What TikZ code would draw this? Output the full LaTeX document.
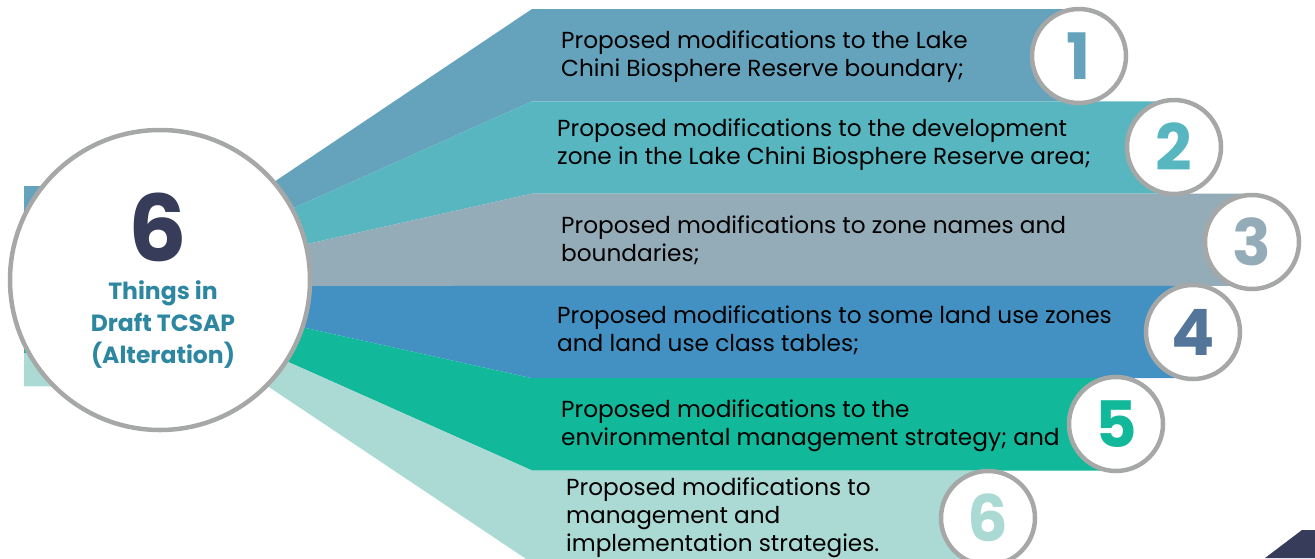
\documentclass[tikz,border=0pt]{standalone}
\usepackage{fontspec}
\setmainfont{Poppins}
\definecolor{bandA}{HTML}{65A2BC}
\definecolor{bandB}{HTML}{58B6C0}
\definecolor{bandC}{HTML}{94ABB8}
\definecolor{bandD}{HTML}{4391C3}
\definecolor{bandE}{HTML}{11B89A}
\definecolor{bandF}{HTML}{ABD9D4}
\definecolor{numD}{HTML}{53759A}
\definecolor{ringgray}{HTML}{A6A8A7}
\definecolor{navy}{HTML}{363C59}
\definecolor{hubtext}{HTML}{2E87A1}
\tikzset{
  ring/.style={circle, draw=ringgray, line width=4.5pt, fill=white, minimum size=94pt, inner sep=0pt,
     font=\fontsize{64}{64}\selectfont\bfseries},
  hub/.style={circle, draw=ringgray, line width=4.5pt, fill=white, minimum size=300pt, inner sep=0pt},
  itemtext/.style={anchor=west, align=left, inner sep=0pt, text=black, font=\fontsize{23.2}{28}\selectfont},
}
\begin{document}
\begin{tikzpicture}[x=1pt,y=-1pt]
\useasboundingbox (0,0) rectangle (1315,558);
\clip (0,0) rectangle (1315,558);
% bands
\foreach \i/\col/\xe in {1/bandA/1079,2/bandB/1174,3/bandC/1252,4/bandD/1193,5/bandE/1116,6/bandF/988}{
  \pgfmathsetmacro{\lt}{186+33.4*(\i-1)}
  \pgfmathsetmacro{\lb}{186+33.4*\i}
  \pgfmathsetmacro{\rt}{9+92.3*(\i-1)}
  \pgfmathsetmacro{\rb}{9+92.3*\i}
  \fill[\col] (24,\lt) -- (268,\lt) -- (532,\rt) -- (\xe,\rt) -- (\xe,\rb) -- (532,\rb) -- (268,\lb) -- (24,\lb) -- cycle;
}
% dark corner shape
\fill[navy] (1265,558) -- (1302,530) -- (1315,530) -- (1315,558) -- cycle;
% hub
\node[hub] (hub) at (160,280) {};
\node[text=navy, font=\fontsize{92}{92}\selectfont\bfseries, inner sep=0pt] (six) at (158,227) {6};
\node[text=hubtext, align=center, inner sep=0pt, font=\fontsize{23.5}{32}\selectfont\bfseries] (hubt) at (163,325) {Things in\\Draft TCSAP\\(Alteration)};
% item texts
\node[itemtext] (t1) at (561,57) {Proposed modifications to the Lake\\Chini Biosphere Reserve boundary;};
\node[itemtext] (t2) at (557,145) {Proposed modifications to the development\\zone in the Lake Chini Biosphere Reserve area;};
\node[itemtext] (t3) at (561,240) {Proposed modifications to zone names and\\boundaries;};
\node[itemtext] (t4) at (557,330) {Proposed modifications to some land use zones\\and land use class tables;};
\node[itemtext] (t5) at (561,426) {Proposed modifications to the\\environmental management strategy; and};
\node[itemtext] (t6) at (566,518) {Proposed modifications to\\management and\\implementation strategies.};
% number rings
\node[ring, text=bandA] (c1) at (1079,56) {1};
\node[ring, text=bandB] (c2) at (1174,147) {2};
\node[ring, text=bandC] (c3) at (1252,242) {3};
\node[ring, text=numD] (c4) at (1193,332) {4};
\node[ring, text=bandE] (c5) at (1116,424) {5};
\node[ring, text=bandF] (c6) at (988,518) {6};
\end{tikzpicture}
\end{document}
